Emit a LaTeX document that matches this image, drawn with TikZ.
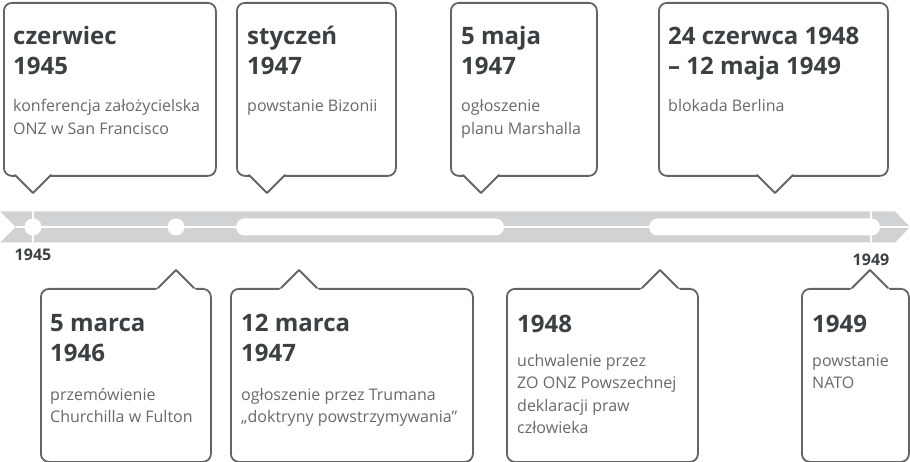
\documentclass[tikz,border=0pt]{standalone}
\usepackage{fontspec}
\setmainfont{Open Sans}
\usepackage{xcolor}
\usetikzlibrary{positioning,calc}

\definecolor{frameclr}{HTML}{626567}
\definecolor{bandclr}{HTML}{D1D2D4}
\definecolor{headclr}{HTML}{3B4043}
\definecolor{noteclr}{HTML}{67696B}

\begin{document}
\begin{tikzpicture}[x=1pt, y=-1pt,
    card/.style={draw=frameclr, line width=1.8pt, rounded corners=8pt, fill=white, anchor=north west, inner sep=0pt, minimum height=173pt},
    heading/.style={anchor=base west, inner sep=0pt, align=left, text=headclr, font=\fontsize{24}{30}\selectfont\bfseries},
    note/.style={anchor=base west, inner sep=0pt, align=left, text=noteclr, font=\fontsize{16}{22.5}\selectfont},
    tip/.style={draw=frameclr, line width=1.8pt, line join=round, line cap=round},
    dot/.style={circle, fill=white, inner sep=0pt, minimum size=17pt},
    span/.style={rectangle, fill=white, rounded corners=8.5pt, inner sep=0pt, minimum height=17pt},
    year/.style={anchor=base, inner sep=0pt, text=headclr, font=\fontsize{16}{18}\selectfont\bfseries}]
    \useasboundingbox (0,0) rectangle (910,462);

    % timeline
    \fill[bandclr] (0,211.5) -- (895,211.5) -- (910,227) -- (895,242.5) -- (0,242.5) -- (16,227) -- cycle;
    \draw[white, line width=2.4pt] (16,227) -- (910,227);
    \draw[white, line width=2pt] (33,211.5) -- (33,242.5);
    \draw[white, line width=2pt] (871,211.5) -- (871,242.5);
    \node (m1) [dot] at (33,227) {};
    \node (m2) [dot] at (176,227) {};
    \node (s1) [span, minimum width=268pt] at (370,227) {};
    \node (s2) [span, minimum width=231pt] at (764.5,227) {};
    \node (y1) [year] at (33,261) {1945};
    \node (y2) [year] at (871,266) {1949};

    % upper cards
    \node (c1) [card, minimum width=212pt] at (3,2) {};
    \node (c2) [card, minimum width=159pt] at (236,2) {};
    \node (c3) [card, minimum width=146pt] at (450,2) {};
    \node (c4) [card, minimum width=229pt] at (658,2) {};
    \coordinate (p1) at (33,193);
    \coordinate (p2) at (267,193);
    \coordinate (p3) at (481,193);
    \coordinate (p4) at (775,193);

    % lower cards
    \node (c5) [card, minimum width=170pt] at (40,288) {};
    \node (c6) [card, minimum width=242pt] at (230,288) {};
    \node (c7) [card, minimum width=191pt] at (506,288) {};
    \node (c8) [card, minimum width=107pt] at (801,288) {};
    \coordinate (p5) at (176,270);
    \coordinate (p6) at (299,270);
    \coordinate (p7) at (660,270);
    \coordinate (p8) at (870,270);

    \foreach \p/\d in {p1/-1, p2/-1, p3/-1, p4/-1, p5/1, p6/1, p7/1, p8/1} {
        \fill[white] ($(\p)+(-20,20*\d)$) -- (\p) -- ($(\p)+(20,20*\d)$) -- cycle;
        \draw[tip] ($(\p)+(-18,18*\d)$) -- (\p) -- ($(\p)+(18,18*\d)$);
    }

    % texts, placed at the baseline of their last line
    \node (h1) [heading] at (13,75) {czerwiec\\1945};
    \node (n1) [note] at (13,134.5) {konferencja założycielska\\ONZ w San Francisco};
    \node (h2) [heading] at (247,75) {styczeń\\1947};
    \node (n2) [note] at (247,112) {powstanie Bizonii};
    \node (h3) [heading] at (461,75) {5 maja\\1947};
    \node (n3) [note] at (461,134.5) {ogłoszenie\\planu Marshalla};
    \node (h4) [heading] at (668,75) {24 czerwca 1948\\– 12 maja 1949};
    \node (n4) [note] at (668,112) {blokada Berlina};

    \node (h5) [heading] at (50,361) {5 marca\\1946};
    \node (n5) [note] at (50,422.5) {przemówienie\\Churchilla w Fulton};
    \node (h6) [heading] at (241,361) {12 marca\\1947};
    \node (n6) [note] at (241,422.5) {ogłoszenie przez Trumana\\„doktryny powstrzymywania”};
    \node (h7) [heading] at (517,332) {1948};
    \node (n7) [note] at (517,433.5) {uchwalenie przez\\ZO ONZ Powszechnej\\deklaracji praw\\człowieka};
    \node (h8) [heading] at (812,332) {1949};
    \node (n8) [note] at (812,388.5) {powstanie\\NATO};
\end{tikzpicture}
\end{document}
